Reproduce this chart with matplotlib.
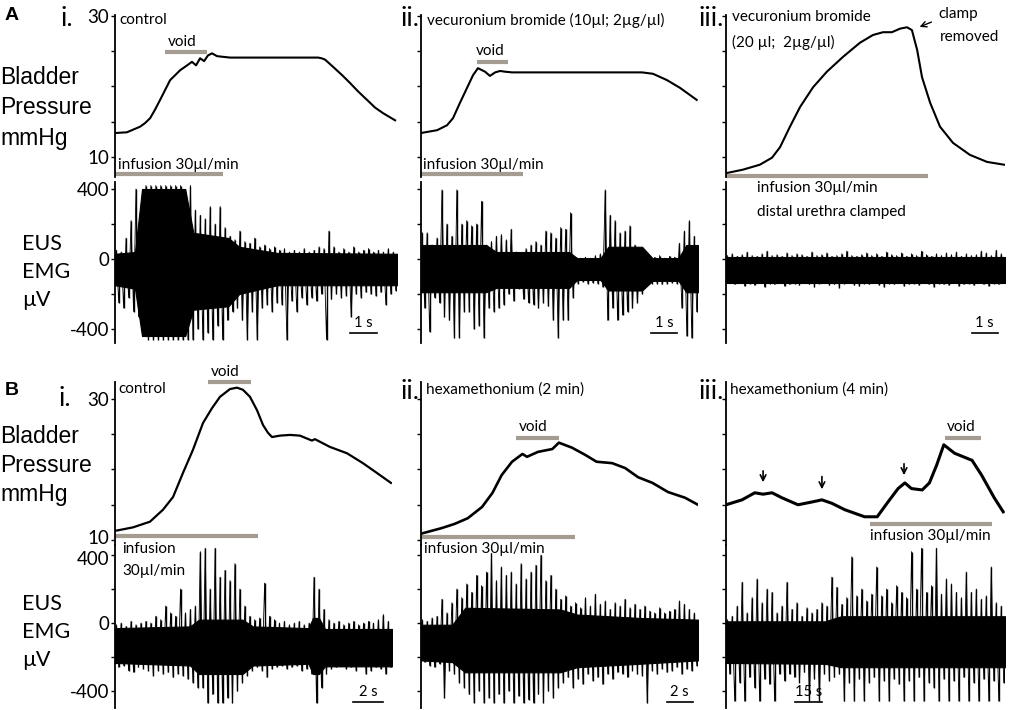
import numpy as np
import matplotlib
matplotlib.use("Agg")
import matplotlib.pyplot as plt
import matplotlib.transforms as mtransforms

plt.rcParams['font.family'] = ['Lato', 'DejaVu Sans']

# ---------------- data ----------------
# Bladder pressure traces (time in s, pressure in mmHg)
a1_t = [0, 0.44, 0.93, 1.11, 1.30, 1.48, 1.67, 2.04, 2.41, 2.67, 2.85, 3.00, 3.15, 3.30, 3.44, 3.59,
        3.78, 4.26, 5.37, 6.48, 7.52, 7.65, 7.78, 8.07, 8.41, 8.70, 9.00, 9.33, 9.63, 9.93, 10.37]
a1_p = [13.4, 13.5, 14.3, 14.8, 15.5, 16.7, 18.1, 20.9, 22.3, 23.0, 23.5, 23.0, 24.0, 23.6, 24.4, 24.7,
        24.3, 24.1, 24.1, 24.1, 24.1, 24.0, 23.8, 22.8, 21.6, 20.5, 19.3, 18.1, 17.0, 16.2, 15.2]
a2_t = [0, 0.62, 1.0, 1.23, 1.5, 1.77, 2.0, 2.19, 2.46, 2.65, 2.85, 3.04, 3.23, 3.5, 5.0, 7.0,
        8.5, 8.92, 9.46, 9.96, 10.6]
a2_p = [13.4, 13.8, 14.5, 15.5, 17.7, 19.8, 21.6, 22.6, 22.1, 21.5, 22.0, 22.2, 22.1, 22.0, 22.0,
        22.0, 22.0, 21.8, 20.9, 19.8, 18.1]
a3_t = [0, 0.65, 1.3, 1.77, 2.08, 2.46, 2.85, 3.35, 3.88, 4.5, 5.15, 5.65, 6.04, 6.38, 6.69, 6.96,
        7.15, 7.35, 7.54, 7.85, 8.23, 8.73, 9.38, 10.04, 10.7]
a3_p = [7.7, 8.2, 8.9, 9.9, 11.4, 14.3, 17.1, 19.9, 22.1, 24.2, 26.2, 27.3, 27.7, 27.7, 28.2, 28.4,
        28.0, 25.2, 21.3, 17.7, 14.3, 12.0, 10.3, 9.3, 8.9]
b1_t = [0, 1.2, 2.33, 3.2, 3.87, 4.53, 5.2, 5.87, 6.47, 7.0, 7.67, 8.13, 8.53, 9.0, 9.47, 9.87,
        10.2, 10.47, 11.0, 11.67, 12.33, 13.13, 13.33, 14.33, 15.47, 16.53, 17.47, 18.4]
b1_p = [11.3, 11.8, 12.6, 14.3, 16.1, 19.5, 22.8, 26.6, 28.7, 30.3, 31.4, 31.6, 31.3, 30.3, 28.4,
        26.3, 25.2, 24.6, 24.8, 24.9, 24.8, 24.1, 24.3, 23.2, 22.3, 20.9, 19.5, 18.1]
b2_t = [0, 0.8, 1.6, 2.6, 3.6, 4.7, 5.5, 6.2, 7.0, 7.8, 8.15, 9.0, 10.1, 10.6, 11.6, 12.6, 13.5,
        14.7, 15.7, 16.7, 17.8, 19.0, 20.3, 21.3]
b2_p = [10.9, 11.3, 11.7, 12.3, 13.1, 14.7, 16.7, 19.2, 21.1, 22.2, 21.8, 22.5, 22.9, 23.8, 23.1,
        22.1, 21.1, 20.9, 20.2, 18.9, 18.1, 16.8, 16.0, 15.0]
b3_t = [0, 8.9, 16, 20.6, 25.6, 31, 40, 47.8, 53.3, 58.9, 66, 77, 84, 90, 95.6, 99.4, 103, 109,
        113, 117, 121, 127, 136.7, 142, 149, 154]
b3_p = [15.0, 15.7, 16.7, 16.5, 16.7, 16.0, 15.0, 15.4, 15.7, 15.2, 14.3, 13.3, 13.3, 15.4, 17.3,
        18.1, 17.3, 17.1, 18.1, 20.6, 23.5, 22.3, 21.3, 19.2, 16.0, 14.0]

# EUS EMG peaks (µV): positive and negative peak per time bin
a1_hi = [50, 40, 120, 220, 400, 150, 420, 420, 420, 420, 420, 420, 420, 420, 300, 420, 280, 250, 230,
         300, 200, 300, 180, 130, 110, 160, 100, 90, 120, 70, 80, 60, 70, 50, 60, 40, 50, 40, 60, 40,
         50, 70, 60, 160, 70, 40, 60, 40, 70, 40, 50, 60, 40, 50, 40, 60, 40]
a1_lo = [-250, -280, -220, -300, -330, -350, -460, -460, -460, -460, -460, -460, -460, -460, -460,
         -460, -400, -460, -420, -460, -380, -460, -350, -300, -280, -350, -460, -300, -460, -280,
         -260, -300, -250, -260, -460, -240, -300, -220, -260, -220, -240, -200, -460, -230, -200,
         -220, -210, -330, -200, -220, -190, -200, -210, -190, -260, -200, -180]
a2_hi = [150, 150, 80, 120, 395, 200, 130, 395, 200, 220, 190, 200, 330, 80, 100, 130, 140, 110, 170,
         40, 20, 60, 80, 100, 80, 160, 150, 120, 180, 170, 265, 10, 5, 10, 5, 20, 30, 395, 250, 220,
         150, 160, 190, 80, 40, 10, 15, 10, 20, 5, 15, 10, 90, 160, 220, 130]
a2_lo = [-280, -415, -220, -250, -330, -350, -450, -450, -300, -300, -400, -380, -450, -280, -300,
         -280, -260, -200, -240, -170, -230, -250, -260, -280, -250, -270, -350, -450, -350, -350,
         -220, -140, -130, -140, -135, -140, -160, -350, -280, -350, -320, -300, -280, -250, -200,
         -150, -140, -140, -145, -140, -135, -140, -280, -440, -450, -300]
a3_hi = [20, 30, 15, 25, 40, 20, 15, 30, 45, 20, 25, 15, 35, 20, 30, 25, 15, 40, 20, 25, 35, 15, 20,
         30, 45, 20, 15, 25, 35, 20, 30, 15, 40, 25, 20, 35, 15, 30, 20, 45, 25, 15, 30, 20, 35, 25,
         40, 15, 30, 20, 25, 45, 35, 20, 50, 30]
a3_lo = [-135, -145, -130, -155, -140, -150, -135, -160, -140, -145, -135, -155, -145, -140, -150,
         -135, -145, -160, -140, -135, -150, -145, -165, -140, -135, -150, -155, -140, -145, -135,
         -150, -160, -140, -145, -135, -155, -145, -140, -150, -135, -145, -160, -140, -145, -150,
         -135, -155, -145, -140, -150, -135, -145, -155, -140, -145, -135]
b1_hi = [-10, 0, -20, 10, -10, 0, 10, 0, 40, 20, 100, 60, 40, 200, 60, 80, 100, 420, 440, 200, 440,
         270, 310, 250, 350, 200, 100, 40, 20, 30, 235, 40, 20, 0, 10, -10, 0, 10, -10, 0, 270, 200,
         80, 20, 0, 10, -10, 0, 10, -10, 0, 10, 0, 20, 50, 10]
b1_lo = [-260, -250, -280, -290, -260, -270, -280, -310, -280, -300, -290, -320, -300, -310, -330,
         -350, -380, -380, -470, -420, -470, -470, -440, -470, -400, -350, -310, -280, -260, -280,
         -320, -270, -260, -250, -270, -260, -250, -280, -270, -300, -470, -380, -300, -270, -260,
         -250, -270, -260, -280, -250, -300, -280, -260, -270, -300, -260]
b2_hi = [20, 10, 30, 40, 140, 60, 120, 200, 150, 230, 180, 280, 220, 300, 410, 250, 330, 280, 300,
         230, 350, 260, 300, 340, 400, 250, 280, 200, 140, 160, 100, 120, 90, 150, 100, 170, 110,
         130, 80, 120, 100, 140, 90, 110, 80, 100, 70, 60, 90, 60, 70, 80, 130, 110, 80, 60]
b2_lo = [-230, -250, -260, -240, -440, -280, -300, -350, -380, -420, -470, -400, -470, -440, -470,
         -420, -470, -400, -470, -430, -470, -450, -470, -420, -470, -400, -440, -380, -350, -320,
         -380, -330, -360, -300, -340, -320, -360, -300, -330, -290, -300, -320, -280, -300, -310,
         -470, -280, -300, -270, -290, -280, -260, -300, -270, -280, -250]
b3_hi = [20, 40, 100, 240, 60, 150, 260, 120, 200, 180, 60, 100, 240, 80, 120, 40, 90, 60, 80, 120,
         100, 270, 210, 110, 150, 390, 160, 200, 130, 170, 330, 160, 200, 120, 220, 180, 150, 420,
         200, 440, 180, 220, 440, 170, 260, 230, 180, 150, 300, 180, 200, 140, 160, 330, 120, 100]
b3_lo = [-300, -460, -350, -460, -320, -380, -460, -330, -360, -460, -300, -340, -300, -320, -350,
         -290, -460, -330, -460, -300, -340, -320, -300, -460, -350, -460, -330, -460, -350, -320,
         -460, -340, -460, -330, -360, -460, -340, -460, -320, -460, -350, -380, -460, -330, -460,
         -340, -460, -320, -460, -350, -460, -330, -460, -340, -460, -350]

# dense core of each EMG trace: time (s), upper edge, lower edge (µV)
a1_core_t = [0, 0.74, 1.0, 2.6, 2.9, 4.2, 4.6, 6.0, 10.44]
a1_core_hi = [30, 40, 400, 400, 150, 120, 70, 35, 30]
a1_core_lo = [-150, -170, -440, -440, -290, -270, -200, -150, -150]
a2_core_t = [0, 2.5, 2.9, 5.7, 6.0, 6.9, 7.2, 8.5, 8.9, 9.9, 10.2, 10.65]
a2_core_hi = [80, 80, 40, 40, 5, 5, 70, 70, 5, 5, 80, 80]
a2_core_lo = [-190, -190, -165, -165, -120, -120, -180, -180, -125, -125, -190, -190]
a3_core_t = [0, 10.73]
a3_core_hi = [10, 10]
a3_core_lo = [-135, -135]
b1_core_t = [0, 5.0, 5.6, 8.5, 9.2, 12.9, 13.2, 13.6, 14.0, 18.47]
b1_core_hi = [-30, -20, 20, 20, -20, -30, 30, 30, -35, -35]
b1_core_lo = [-235, -250, -300, -300, -250, -240, -300, -300, -255, -255]
b2_core_t = [0, 2.4, 3.4, 10.7, 12.0, 16.8, 21.3]
b2_core_hi = [-10, -10, 90, 80, 50, 30, 20]
b2_core_lo = [-220, -230, -290, -290, -260, -240, -220]
b3_core_t = [0, 55, 64, 155]
b3_core_hi = [10, 10, 40, 40]
b3_core_lo = [-235, -240, -260, -260]

# durations (s) of each column
dur = {'a1': 10.44, 'a2': 10.65, 'a3': 10.73, 'b1': 18.47, 'b2': 21.3, 'b3': 155.0}

# event bars (start s, end s, level mmHg)
void_bars = {'a1': (1.85, 3.41, 24.9), 'a2': (2.15, 3.35, 23.5), 'b1': (6.2, 9.07, 32.35),
             'b2': (7.3, 10.6, 24.5), 'b3': (121.7, 141.7, 24.5)}
inf_bars = {'a1': (0, 4.0, 7.6), 'a2': (0, 3.92, 7.6), 'a3': (0, 7.77, 7.3),
            'b1': (0, 9.53, 10.57), 'b2': (0, 11.85, 10.43), 'b3': (80, 147.8, 12.27)}
scale_bars = {'a1': (8.7, 1, '1 s'), 'a2': (8.85, 1, '1 s'), 'a3': (9.45, 1, '1 s'),
              'b1': (15.9, 2, '2 s'), 'b2': (18.9, 2, '2 s'), 'b3': (38.3, 15, '15 s')}

pressure_ticks = [10, 15, 20, 25, 30]
emg_ticks = [-400, -200, 0, 200, 400]

# ---------------- figure ----------------
W, H = 1029, 710
fig = plt.figure(figsize=(W / 100, H / 100), dpi=100)
GREY = '#a59c91'


def add_ax(x0, x1, y0, y1):
    return fig.add_axes([x0 / W, 1 - y1 / H, (x1 - x0) / W, (y1 - y0) / H])


def ftext(x, y, s, size=11, ha='left', va='center', **kw):
    fig.text(x / W, 1 - y / H, s, fontsize=size, ha=ha, va=va, **kw)


def style(ax, ticks, labels, show_labels):
    for sp in ['top', 'right', 'bottom']:
        ax.spines[sp].set_visible(False)
    ax.spines['left'].set_linewidth(1.3)
    ax.set_xticks([])
    ax.set_yticks(ticks)
    ax.set_yticklabels(labels if show_labels else [''] * len(ticks))
    ax.tick_params(axis='y', length=3, width=1.0, labelsize=13.5, pad=1)
    ax.patch.set_alpha(0)


def nudge_label(ax, text, dy_px):
    off = mtransforms.ScaledTranslation(0, dy_px / 100, fig.dpi_scale_trans)
    for lab in ax.get_yticklabels():
        if lab.get_text() == text:
            lab.set_transform(lab.get_transform() + off)


cols = {'1': (115, 397), '2': (421, 698), '3': (726, 1005)}
rows = {'a': ((15, 177), (182, 343), (7.16, 30.14), (-480, 440)),
        'b': ((382, 545), (545, 708), (9.3, 32.4), (-500, 459))}

press = {'a1': (a1_t, a1_p), 'a2': (a2_t, a2_p), 'a3': (a3_t, a3_p),
         'b1': (b1_t, b1_p), 'b2': (b2_t, b2_p), 'b3': (b3_t, b3_p)}
emg = {'a1': (a1_hi, a1_lo), 'a2': (a2_hi, a2_lo), 'a3': (a3_hi, a3_lo),
       'b1': (b1_hi, b1_lo), 'b2': (b2_hi, b2_lo), 'b3': (b3_hi, b3_lo)}
core = {'a1': (a1_core_t, a1_core_hi, a1_core_lo), 'a2': (a2_core_t, a2_core_hi, a2_core_lo),
        'a3': (a3_core_t, a3_core_hi, a3_core_lo), 'b1': (b1_core_t, b1_core_hi, b1_core_lo),
        'b2': (b2_core_t, b2_core_hi, b2_core_lo), 'b3': (b3_core_t, b3_core_hi, b3_core_lo)}
p_lw = {'a1': 1.5, 'a2': 1.5, 'a3': 1.5, 'b1': 1.6, 'b2': 1.9, 'b3': 2.2}

axes = {}
for r, (py, ey, plim, elim) in rows.items():
    for c, (x0, x1) in cols.items():
        key = r + c
        T = dur[key]
        if key == 'b1':
            x1 = 392
        # pressure
        ax = add_ax(x0, x1, py[0], py[1])
        t, p = press[key]
        ax.plot(t, p, color='k', lw=p_lw[key], solid_joinstyle='round')
        ax.set_xlim(0, T)
        ax.set_ylim(*plim)
        style(ax, pressure_ticks, ['10', '', '', '', '30'], c == '1')
        if key in void_bars:
            v0, v1, vy = void_bars[key]
            ax.plot([v0, v1], [vy, vy], color=GREY, lw=3, solid_capstyle='butt', clip_on=False)
        i0, i1, iy = inf_bars[key]
        ax.plot([i0, i1], [iy, iy], color=GREY, lw=3, solid_capstyle='butt', clip_on=False)
        axes[key + 'p'] = ax
        # EMG
        ax2 = add_ax(x0, x1, ey[0], ey[1])
        hi, lo = emg[key]
        ct, chi, clo = core[key]
        n = len(hi)
        dt = T / n
        tb = np.arange(n) * dt + dt / 4
        mid = (chi[0] + clo[0]) / 2
        tz = np.empty(2 * n)
        vz = np.empty(2 * n)
        tz[0::2] = tb
        tz[1::2] = tb + dt / 2
        vz[0::2] = hi
        vz[1::2] = lo
        ax2.fill_between(ct, clo, chi, color='k', lw=0.8, edgecolor='k')
        ax2.plot(tz, vz, color='k', lw=0.6)
        ax2.vlines(tb, mid, hi, color='k', lw=1.0)
        ax2.vlines(tb + dt / 2, lo, mid, color='k', lw=1.0)
        ax2.set_xlim(0, T)
        ax2.set_ylim(*elim)
        style(ax2, emg_ticks, ['-400', '', '0', '', '400'], c == '1')
        s0, sl, slab = scale_bars[key]
        sy = -425 if r == 'a' else -465
        ax2.plot([s0, s0 + sl], [sy, sy], color='k', lw=1.2, clip_on=False)
        ax2.text(s0 + sl / 2, sy + 20, slab, ha='center', va='bottom', fontsize=10.5)
        axes[key + 'e'] = ax2

# keep the stacked "10" and "400" labels of row B apart
nudge_label(axes['b1p'], '10', 3)
nudge_label(axes['b1e'], '400', -3)

# arrows in B-iii
axb3 = axes['b3p']
for (ta, p_top, p_tip) in [(20.6, 20.2, 17.8), (53.3, 19.4, 16.8), (98.9, 21.2, 18.8)]:
    axb3.annotate('', xy=(ta, p_tip), xytext=(ta, p_top),
                  arrowprops=dict(arrowstyle='->', lw=1.2, color='k', mutation_scale=10))
# "clamp removed" arrow (figure pixel position)
fig.add_artist(matplotlib.patches.FancyArrowPatch(
    (934 / W, 1 - 21 / H), (917 / W, 1 - 28 / H), transform=fig.transFigure,
    arrowstyle='->', mutation_scale=10, lw=1.0, color='k'))

# ---------------- text ----------------
ftext(5, 16, 'A', size=14, weight='bold', family='Liberation Sans')
ftext(5, 390, 'B', size=14, weight='bold', family='Liberation Sans')

# row labels
for (yb, yp, ym) in [(77, 108, 138), (437, 466, 495)]:
    ftext(0, yb, 'Bladder', size=16.5, family='Liberation Sans')
    ftext(0, yp, 'Pressure', size=16.5, family='Liberation Sans')
    ftext(0, ym, 'mmHg', size=16.5, family='Liberation Sans')
for (ye, yg, yu) in [(244, 272, 300), (604, 632, 660)]:
    ftext(22, ye, 'EUS', size=15.5)
    ftext(22, yg, 'EMG', size=15.5)
    ftext(22, yu, 'µV', size=15.5)

# panel numerals
ftext(73, 19, 'i.', size=19, ha='right')
ftext(419, 19, 'ii.', size=19, ha='right')
ftext(724, 19, 'iii.', size=19, ha='right')
ftext(71, 399, 'i.', size=19, ha='right')
ftext(419, 391, 'ii.', size=19, ha='right')
ftext(724, 391, 'iii.', size=19, ha='right')

# panel A texts
ftext(119, 20, 'control', size=11)
ftext(168, 42, 'void', size=11)
ftext(118, 165, 'infusion 30µl/min', size=11)
ftext(427, 20, 'vecuronium bromide (10µl; 2µg/µl)', size=11)
ftext(476, 51, 'void', size=11)
ftext(423, 165, 'infusion 30µl/min', size=11)
ftext(732, 17, 'vecuronium bromide', size=11)
ftext(732, 42, '(20 µl;  2µg/µl)', size=11)
ftext(938, 14, 'clamp', size=11)
ftext(940, 37, 'removed', size=11)
ftext(757, 188, 'infusion 30µl/min', size=11)
ftext(757, 212, 'distal urethra clamped', size=11)

# panel B texts
ftext(118, 389, 'control', size=11)
ftext(211, 372, 'void', size=11)
ftext(122, 549, 'infusion', size=11)
ftext(122, 571, '30µl/min', size=11)
ftext(426, 390, 'hexamethonium (2 min)', size=11)
ftext(519, 427, 'void', size=11)
ftext(424, 549, 'infusion 30µl/min', size=11)
ftext(730, 390, 'hexamethonium (4 min)', size=11)
ftext(947, 427, 'void', size=11)
ftext(870, 536, 'infusion 30µl/min', size=11)

fig.savefig('out.png', dpi=100)
